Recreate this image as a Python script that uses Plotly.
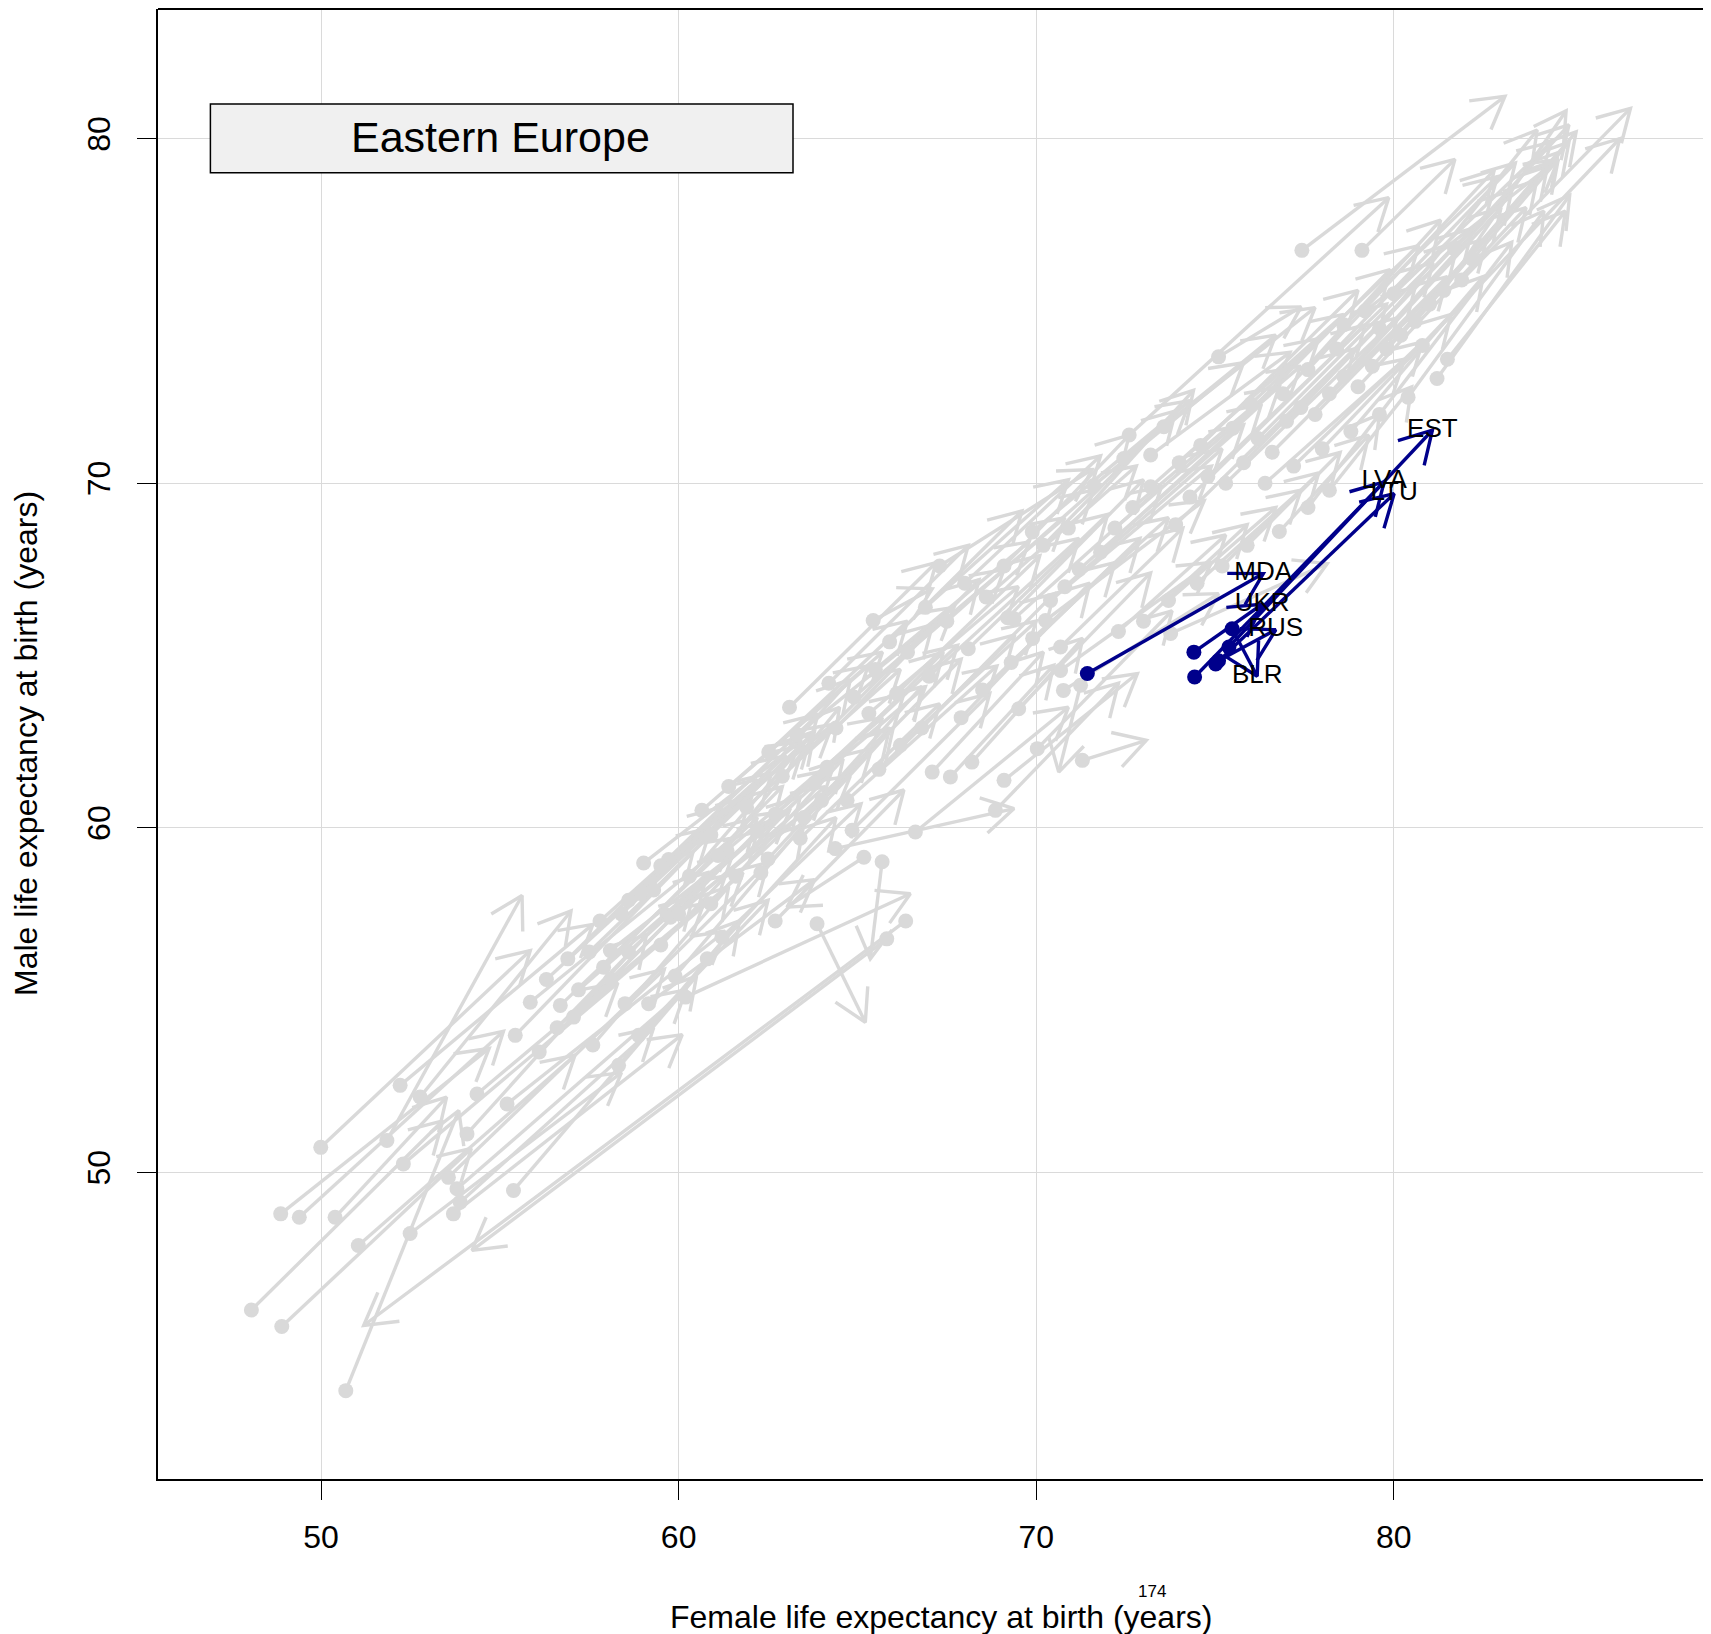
import math
import plotly.graph_objects as go

# ---------------- data (female LE, male LE) : start -> end ----------------
grey_x0 = [48.05, 48.90, 50.69, 48.87, 49.39, 49.99, 50.39, 51.04, 51.84, 52.21, 52.77, 52.30, 52.49, 53.56,
           53.80, 53.89, 53.70, 55.38, 54.36, 54.08, 55.20, 55.43, 55.85, 56.69, 57.06, 57.90, 58.09, 58.32,
           58.88, 59.16, 59.68, 58.93, 61.21, 60.19, 65.82, 66.35, 63.87, 65.69, 65.18,
           64.38, 66.62, 71.29, 71.24, 68.86, 69.10, 70.03, 68.20, 67.60, 67.09, 65.44, 64.85, 60.65, 62.52,
           64.15, 65.32, 69.38, 70.26, 70.68, 69.51, 70.68, 70.76, 73.76, 64.71, 59.02, 59.72, 58.40, 59.77,
           61.35, 67.30,
           60.90, 61.40, 61.90, 62.90, 63.30, 63.80, 64.40, 64.90, 65.50, 66.10, 66.40, 67.00, 67.50, 68.10,
           68.60, 69.20, 62.20, 62.70, 63.40, 64.00, 65.60, 66.20, 66.80, 67.90, 68.50, 69.30, 69.90, 65.90,
           66.90, 68.00, 69.10, 70.20, 70.90, 63.10, 64.20, 60.30, 61.10, 62.50, 63.50,
           56.30, 56.90, 57.50, 57.80, 58.60, 59.30, 59.50, 57.20, 58.10, 58.60, 59.50, 60.00, 60.90, 61.60,
           62.30, 56.10, 56.60, 57.60, 58.50, 59.90, 60.80, 62.70,
           77.43, 79.11, 81.21, 72.60, 75.10, 73.57, 72.45, 73.20, 71.61, 69.89,
           73.90, 74.30, 74.80, 75.30, 75.80, 76.20, 76.60, 77.00, 77.40, 77.80, 78.20, 78.60, 79.00, 79.40,
           79.80, 80.20, 80.60, 81.00, 81.40, 81.90, 80.80, 79.60, 78.40, 77.60, 76.90, 76.00, 75.50, 74.60,
           74.00, 73.20, 72.70, 72.20, 71.80, 71.20, 70.80, 70.40, 76.40, 77.20, 78.00, 78.80, 79.60, 80.40,
           77.60, 78.20, 76.80, 75.90, 75.20, 74.50, 73.70, 73.00, 72.30, 80.00, 79.20, 78.60, 82.20, 81.70,
           81.50]
grey_y0 = [46.01, 45.53, 43.67, 48.80, 48.70, 50.73, 48.70, 47.88, 50.93, 52.53, 52.19, 50.25, 48.23, 49.86,
           49.53, 49.14, 48.80, 49.48, 52.28, 51.12, 51.99, 53.98, 54.94, 54.85, 54.51, 55.96, 56.44, 53.11,
           53.98, 54.90, 57.46, 58.10, 56.83, 55.09, 56.78, 57.30, 57.22, 59.02, 59.15,
           59.40, 59.88, 61.96, 64.14, 60.51, 61.38, 62.30, 61.91, 61.48, 61.62, 66.02, 59.93, 60.51, 62.20,
           61.76, 63.32, 66.07, 66.02, 65.25, 63.46, 64.57, 63.99, 65.64, 60.80, 58.98, 59.08, 57.50, 57.41,
           59.35, 67.60,
           59.80, 61.20, 60.60, 61.50, 62.70, 61.30, 62.90, 63.80, 64.60, 63.90, 65.10, 64.40, 66.00, 65.20,
           66.70, 66.10, 59.90, 60.40, 59.70, 60.80, 61.70, 62.40, 62.90, 63.20, 64.00, 64.80, 65.50, 65.40,
           66.40, 67.10, 67.60, 68.20, 68.70, 63.50, 64.20, 58.60, 59.20, 59.10, 60.30,
           55.60, 56.20, 56.40, 57.30, 57.90, 58.20, 58.90, 55.30, 55.60, 56.40, 56.60, 57.50, 57.80, 58.60,
           58.70, 53.50, 54.20, 53.70, 54.90, 55.70, 56.20, 57.30,
           76.76, 76.76, 73.04, 71.40, 73.67, 71.64, 70.72, 70.82, 69.94, 68.59,
           68.80, 69.60, 70.20, 70.00, 70.60, 71.30, 70.90, 71.80, 72.20, 72.00, 72.60, 73.10, 72.80, 73.40,
           73.90, 74.30, 74.70, 75.20, 75.60, 75.90, 74.00, 74.50, 73.90, 73.30, 72.60, 72.30, 71.60, 71.10,
           70.60, 69.90, 69.30, 68.70, 68.00, 67.50, 67.00, 66.60, 70.00, 70.50, 71.00, 71.50, 72.00, 72.50,
           69.30, 69.80, 68.60, 68.20, 67.60, 67.10, 66.60, 66.00, 65.70, 75.50, 75.00, 74.60, 76.50, 76.80,
           73.60]
grey_x1 = [53.40, 54.20, 53.85, 54.70, 55.10, 55.85, 53.51, 57.10, 55.62, 57.60, 56.99, 58.30, 58.40, 59.60,
           60.20, 59.30, 60.10, 60.50, 60.70, 59.10, 61.30, 60.40, 61.50, 62.20, 61.80, 62.90, 63.10, 61.70,
           62.50, 63.80, 64.30, 63.50, 65.10, 66.48, 54.22, 51.19, 65.22, 65.36, 63.03,
           69.38, 70.90, 73.08, 70.63, 72.30, 72.83, 73.80, 71.30, 70.49, 70.20, 67.09, 68.70, 65.30, 66.40,
           67.80, 69.50, 73.50, 74.70, 74.10, 73.20, 74.90, 75.10, 78.14, 68.90, 63.40, 64.30, 62.60, 64.80,
           65.70, 71.56,
           64.80, 65.70, 66.20, 67.10, 67.70, 67.40, 68.40, 69.10, 69.80, 70.10, 70.80, 71.20, 71.60, 72.00,
           72.80, 73.00, 66.30, 66.90, 67.30, 67.90, 69.40, 70.00, 70.50, 71.50, 72.20, 72.90, 73.70, 69.60,
           70.90, 71.80, 72.60, 73.90, 74.40, 67.20, 68.10, 63.80, 64.50, 65.90, 66.80,
           60.90, 61.20, 62.00, 62.20, 63.00, 63.70, 63.90, 61.50, 62.20, 62.60, 63.40, 64.10, 64.60, 65.40,
           66.00, 60.40, 60.80, 61.40, 62.50, 63.50, 64.40, 66.30,
           83.11, 81.71, 84.92, 79.86, 77.41, 77.80, 76.70, 77.10, 75.80, 74.30,
           78.90, 79.20, 79.80, 80.10, 80.60, 81.10, 81.50, 81.80, 82.20, 82.60, 83.00, 83.30, 83.70, 84.00,
           84.30, 84.60, 84.90, 85.10, 84.82, 86.62, 86.32, 84.01, 83.40, 82.81, 81.31, 80.70, 79.90, 79.00,
           78.60, 77.90, 77.40, 76.80, 76.30, 75.80, 75.20, 74.90, 80.30, 80.80, 81.60, 82.50, 83.30, 84.20,
           79.60, 80.50, 79.30, 78.50, 77.90, 77.40, 76.70, 75.90, 75.30, 84.40, 84.60, 82.90, 84.60, 84.90,
           84.80]
grey_y1 = [51.50, 50.70, 51.80, 53.60, 54.10, 56.44, 52.19, 53.40, 58.04, 57.20, 57.59, 55.50, 52.90, 55.90,
           55.30, 54.20, 54.00, 55.70, 57.80, 56.90, 57.00, 59.30, 59.70, 60.30, 58.70, 61.20, 60.50, 57.30,
           57.90, 58.50, 61.70, 62.40, 60.70, 58.09, 47.74, 45.56, 54.36, 56.20, 57.70,
           60.56, 63.50, 62.54, 61.62, 64.20, 64.48, 66.30, 65.50, 64.72, 65.10, 66.94, 63.90, 64.70, 66.00,
           65.30, 67.00, 69.90, 69.50, 68.70, 67.40, 67.70, 66.80, 67.67, 64.70, 62.50, 63.00, 61.60, 61.50,
           63.20, 70.40,
           64.30, 65.10, 64.60, 65.90, 66.40, 65.10, 67.20, 67.50, 68.30, 67.90, 69.00, 68.40, 69.80, 69.10,
           70.50, 70.10, 63.90, 64.10, 63.60, 64.90, 65.60, 66.00, 66.80, 67.10, 67.70, 68.40, 69.00, 69.20,
           70.10, 70.80, 71.40, 72.10, 72.70, 67.70, 68.20, 62.80, 63.50, 62.90, 64.10,
           60.00, 60.60, 60.90, 61.40, 62.10, 62.70, 63.30, 59.20, 59.90, 60.20, 60.90, 61.20, 62.00, 62.30,
           62.90, 58.00, 58.70, 58.30, 59.00, 60.10, 60.30, 61.10,
           81.23, 79.40, 78.36, 78.29, 75.12, 75.10, 74.30, 73.80, 73.50, 72.40,
           73.90, 74.60, 75.20, 74.80, 75.70, 76.40, 76.00, 77.00, 77.40, 77.10, 78.00, 78.50, 78.00, 78.80,
           79.20, 79.60, 79.90, 80.20, 80.81, 80.88, 80.00, 80.25, 79.30, 79.09, 77.64, 76.90, 76.20, 75.60,
           74.90, 74.20, 73.40, 72.80, 72.30, 71.70, 71.00, 70.50, 73.60, 74.10, 74.90, 76.00, 77.00, 77.90,
           72.00, 72.80, 71.40, 70.90, 70.30, 69.80, 69.30, 68.80, 68.50, 79.90, 79.40, 78.90, 79.40, 80.40,
           77.90]

ee_codes = ["MDA", "UKR", "RUS", "BLR", "LVA", "LTU", "EST"]
ee_x0 = [71.43, 74.41, 75.10, 75.48, 74.43, 75.02, 75.39]
ee_y0 = [64.48, 65.10, 64.85, 65.78, 64.38, 64.76, 65.25]
ee_x1 = [76.35, 76.32, 76.70, 76.18, 79.73, 80.01, 81.08]
ee_y1 = [67.38, 66.49, 65.75, 64.40, 70.04, 69.70, 71.54]

x_ticks = [50, 60, 70, 80]
y_ticks = [50, 60, 70, 80]
region_name = "Eastern Europe"

# ---------------- layout geometry ----------------
# (page body has an 8px margin, so the figure itself starts at (8, 8))
W, H = 1711, 1634
ML, MR, MT, MB = 150, 0, 1, 163
PW = W - ML - MR          # plot width in px (1561)
PH = H - MT - MB          # plot height in px (1470)
XR = [45.438, 45.438 + PW / 35.755]
YR = [41.106, 83.764]
kx = PW / (XR[1] - XR[0])
ky = PH / (YR[1] - YR[0])
HEAD = 36  # arrowhead barb length in px
FONT = "Liberation Sans, Arial, Helvetica, sans-serif"


def px_x(page_x):
    return (page_x - 158) / PW


def px_y(page_y):
    return (1479 - page_y) / PH


def arrow_paths(x0s, y0s, x1s, y1s):
    xs, ys = [], []
    for a, b, c, d in zip(x0s, y0s, x1s, y1s):
        xs += [a, c, None]
        ys += [b, d, None]
        th = math.atan2((d - b) * ky, (c - a) * kx)
        pts = []
        for s in (1, -1):
            ang = th + s * math.pi / 6
            pts.append((c - HEAD * math.cos(ang) / kx, d - HEAD * math.sin(ang) / ky))
        xs += [pts[0][0], c, pts[1][0], None]
        ys += [pts[0][1], d, pts[1][1], None]
    return xs, ys


GREY = "#D9D9D9"
BLUE = "#00008B"

fig = go.Figure()
gx, gy = arrow_paths(grey_x0, grey_y0, grey_x1, grey_y1)
fig.add_trace(go.Scatter(x=gx, y=gy, mode="lines", line=dict(color=GREY, width=3.4),
                         hoverinfo="skip", showlegend=False))
fig.add_trace(go.Scatter(x=grey_x0, y=grey_y0, mode="markers",
                         marker=dict(color=GREY, size=15, line=dict(width=0)),
                         hoverinfo="skip", showlegend=False))
bx, by = arrow_paths(ee_x0, ee_y0, ee_x1, ee_y1)
fig.add_trace(go.Scatter(x=bx, y=by, mode="lines", line=dict(color=BLUE, width=3.4),
                         hoverinfo="skip", showlegend=False))
fig.add_trace(go.Scatter(x=ee_x0, y=ee_y0, mode="markers",
                         marker=dict(color=BLUE, size=15, line=dict(width=0)),
                         hoverinfo="skip", showlegend=False))
fig.add_trace(go.Scatter(x=ee_x1, y=ee_y1, mode="text", text=ee_codes,
                         textposition="middle center",
                         textfont=dict(family=FONT, size=26, color="black"),
                         hoverinfo="skip", showlegend=False))

axis_common = dict(showgrid=True, gridcolor="#DADADA", gridwidth=1.3, zeroline=False,
                   showline=True, linecolor="black", linewidth=2, mirror=False,
                   ticks="outside", ticklen=19, tickwidth=1.3, tickcolor="black",
                   tickfont=dict(family=FONT, size=32, color="black"))

fig.update_layout(
    width=W, height=H,
    margin=dict(l=ML, r=MR, t=MT, b=MB, pad=0),
    paper_bgcolor="white", plot_bgcolor="white",
    xaxis=dict(range=XR, tickvals=x_ticks, ticktext=[str(v) for v in x_ticks],
               ticklabelstandoff=10, **axis_common),
    yaxis=dict(range=YR, tickvals=y_ticks, ticktext=[str(v) for v in y_ticks],
               tickangle=-90, ticklabelstandoff=14, **axis_common),
    shapes=[
        dict(type="line", xref="paper", yref="paper", x0=0, x1=1, y0=1, y1=1,
             line=dict(color="black", width=2)),
        dict(type="rect", xref="paper", yref="paper", x0=px_x(210.4), x1=px_x(793),
             y0=px_y(172.7), y1=px_y(104),
             fillcolor="#F0F0F0", line=dict(color="black", width=1.5), layer="above"),
    ],
    annotations=[
        dict(text=region_name, xref="paper", yref="paper", x=px_x(500), y=px_y(137),
             xanchor="center", yanchor="middle", showarrow=False,
             font=dict(family=FONT, size=43, color="black")),
        dict(text="Female life expectancy at birth (years)", xref="paper", yref="paper",
             x=px_x(940.6), y=px_y(1616.5), xanchor="center", yanchor="middle", showarrow=False,
             font=dict(family=FONT, size=32, color="black")),
        dict(text="Male life expectancy at birth (years)", xref="paper", yref="paper",
             x=px_x(26), y=px_y(744), xanchor="center", yanchor="middle", showarrow=False,
             textangle=-90, borderpad=0, font=dict(family=FONT, size=32, color="black")),
        dict(text="174", xref="paper", yref="paper", x=px_x(1152), y=px_y(1591),
             xanchor="center", yanchor="middle", showarrow=False,
             font=dict(family=FONT, size=17, color="black")),
    ],
)

fig.write_html("out.html")
